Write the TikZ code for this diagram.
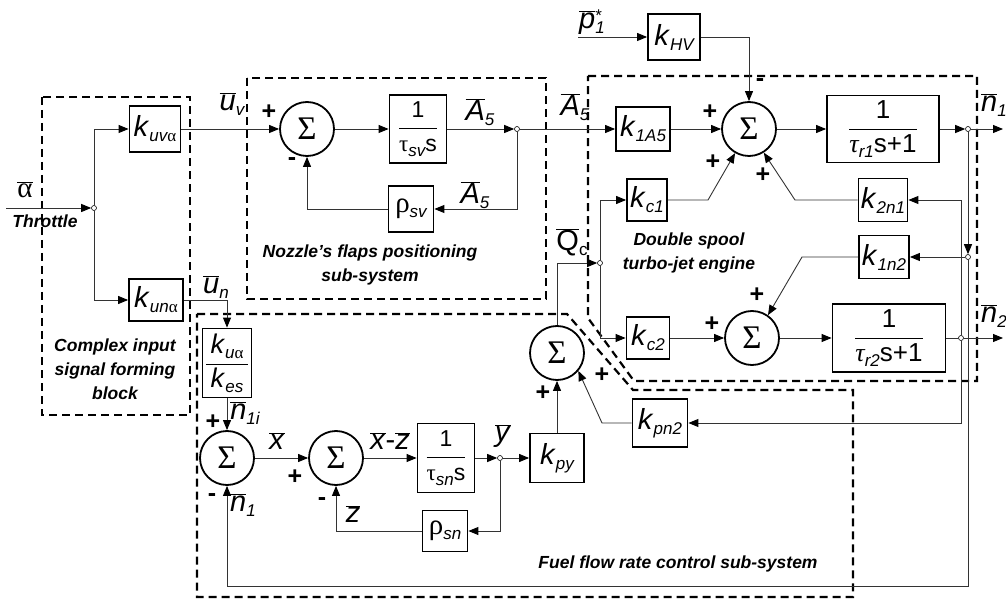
\documentclass[tikz,border=0pt]{standalone}
\usepackage{fontspec}
\setmainfont{Liberation Sans}
\newfontfamily\grk{Liberation Serif}
\usetikzlibrary{arrows.meta}
\newcommand{\fA}{\fontsize{29}{31}\selectfont}
\newcommand{\fS}{\fontsize{17}{18}\selectfont}
\newcommand{\fF}{\fontsize{23}{25}\selectfont}
\newcommand{\fT}{\fontsize{17.5}{24}\selectfont\bfseries\itshape}
\newcommand{\lsub}[1]{\raisebox{-5pt}{\fS\itshape #1}}
\newcommand{\kk}[1]{\textit{k}\lsub{#1}}
\newcommand{\galpha}{{\grk\upshape α}}
\newcommand{\obar}[1]{$\overline{\hbox{#1}}$}
\newcommand{\frc}[2]{$\displaystyle\frac{\hbox{\,#1\,}}{\hbox{#2}}$}
\begin{document}
\begin{tikzpicture}[x=1pt,y=-1pt,
  line/.style={draw=black!80, line width=0.9pt},
  arr/.style={line, -{Triangle[length=10pt,width=8pt,color=black]}},
  blk/.style={draw, line width=1.8pt, inner sep=0pt, font=\fA},
  sm/.style={circle, draw, line width=1.8pt, minimum size=54pt, inner sep=0pt, font=\grk\fontsize{33}{33}\selectfont},
  jn/.style={circle, draw, fill=white, inner sep=0pt, minimum size=5pt, line width=0.6pt},
  lab/.style={inner sep=0pt, font=\fA},
  pm/.style={inner sep=0pt, font=\fontsize{25}{25}\selectfont\bfseries},
  ttl/.style={align=center, font=\fT, inner sep=0pt},
  dbox/.style={draw, line width=2.2pt, dash pattern=on 8pt off 5pt}]
\useasboundingbox (0,0) rectangle (1006,601);

% dashed sub-system frames
\draw[dbox] (42,97) rectangle (190,415);
\draw[dbox] (247,78) rectangle (546,299);
\draw[dbox] (588,76) -- (977,76) -- (977,381) -- (634,381) -- (588,318) -- cycle;
\draw[dbox] (197,314) -- (567,314) -- (633,390) -- (853,390) -- (853,597) -- (197,597) -- cycle;

% blocks
\node[blk, minimum width=51pt, minimum height=46pt] (kuva) at (155,129) {\kk{uv\galpha}};
\node[blk, minimum width=54pt, minimum height=42pt] (kuna) at (156,300) {\kk{un\galpha}};
\node[blk, minimum width=49pt, minimum height=69pt, font=\fontsize{27}{29}\selectfont] (kues) at (227,363) {\frc{\kk{u\galpha}}{\kk{es}}};
\node[blk, minimum width=57pt, minimum height=68pt, font=\fF] (tsv) at (418,129) {\frc{1}{{\grk τ}\lsub{sv}s}};
\node[blk, minimum width=45pt, minimum height=46pt] (rsv) at (411,209) {{\grk ρ}\lsub{sv}};
\node[blk, minimum width=52pt, minimum height=46pt] (khv) at (674,37) {\kk{HV}};
\node[blk, minimum width=54pt, minimum height=44pt] (k1a5) at (643,129) {\kk{1A5}};
\node[blk, minimum width=112pt, minimum height=67pt, font=\fontsize{26}{28}\selectfont] (tr1) at (883,129) {\frc{1}{{\grk\itshape τ}\lsub{r1}s+1}};
\node[blk, minimum width=40pt, minimum height=42pt] (kc1) at (647,200) {\kk{c1}};
\node[blk, minimum width=49pt, minimum height=43pt] (k2n1) at (883,200) {\kk{2n1}};
\node[blk, minimum width=50pt, minimum height=43pt] (k1n2) at (884,257) {\kk{1n2}};
\node[blk, minimum width=43pt, minimum height=42pt] (kc2) at (648,338) {\kk{c2}};
\node[blk, minimum width=113pt, minimum height=68pt, font=\fontsize{26}{28}\selectfont] (tr2) at (889,338) {\frc{1}{{\grk\itshape τ}\lsub{r2}s+1}};
\node[blk, minimum width=55pt, minimum height=48pt] (kpn2) at (660,423) {\kk{pn2}};
\node[blk, minimum width=54pt, minimum height=49pt] (kpy) at (557,458) {\kk{py}};
\node[blk, minimum width=57pt, minimum height=69pt, font=\fF] (tsn) at (446,458) {\frc{1}{{\grk τ}\lsub{sn}s}};
\node[blk, minimum width=45pt, minimum height=41pt] (rsn) at (445,531) {{\grk ρ}\lsub{sn}};

% summing junctions
\node[sm] (s1) at (307,129) {Σ};
\node[sm] (s2) at (749,129) {Σ};
\node[sm] (sn2) at (752,338) {Σ};
\node[sm] (s3) at (557,353) {Σ};
\node[sm] (f1) at (227,458) {Σ};
\node[sm] (f2) at (336,458) {Σ};

% branch points
\node[jn] (j0) at (94,208) {};
\node[jn] (jA5) at (517,129) {};
\node[jn] (jQ) at (600,263) {};
\node[jn] (jn1) at (968,129) {};
\node[jn] (jn1b) at (968,257) {};
\node[jn] (jn2) at (961,338) {};
\node[jn] (jy) at (500,458) {};

% free ends and bends
\coordinate (inp) at (6,208);
\coordinate (p1in) at (578,37);
\coordinate (n1out) at (1003,129);
\coordinate (n2out) at (1003,338);
\coordinate (ka) at (708,200);
\coordinate (kb) at (795,200);
\coordinate (kcn) at (802,257);
\coordinate (kpb) at (602,423);
\coordinate (bl) at (968,586);

% connectors
\draw[arr] (inp) -- (j0);
\draw[arr] (j0) |- (kuva.west);
\draw[arr] (j0) |- (kuna.west);
\draw[arr] (kuva.east) -- (s1.west);
\draw[arr] (s1.east) -- (tsv.west);
\draw[arr] (tsv.east) -- (jA5);
\draw[arr] (jA5) -- (k1a5.west);
\draw[arr] (jA5) |- (rsv.east);
\draw[arr] (rsv.west) -| (s1.south);
\draw[arr] (kuna.east) -| (kues.north);
\draw[arr] (kues.south) -- (f1.north);
\draw[arr] (f1.east) -- (f2.west);
\draw[arr] (f2.east) -- (tsn.west);
\draw[arr] (tsn.east) -- (jy);
\draw[arr] (jy) -- (kpy.west);
\draw[arr] (jy) |- (rsn.east);
\draw[arr] (rsn.west) -| (f2.south);
\draw[arr] (kpy.north) -- (s3.south);
\draw[arr] (s3.north) |- (jQ);
\draw[arr] (jQ) |- (kc1.west);
\draw[arr] (jQ) |- (kc2.west);
\draw[arr] (p1in) -- (khv.west);
\draw[arr] (khv.east) -| (s2.north);
\draw[arr] (k1a5.east) -- (s2.west);
\draw[arr] (kc1.east) -- (ka) -- (s2.240);
\draw[arr] (k2n1.west) -- (kb) -- (s2.302);
\draw[arr] (s2.east) -- (tr1.west);
\draw[arr] (tr1.east) -- (jn1);
\draw[arr] (jn1) -- (n1out);
\draw[arr] (jn1) -- (jn1b);
\draw[arr] (jn1b) -- (k1n2.east);
\draw[arr] (k1n2.west) -- (kcn) -- (sn2.55);
\draw[arr] (kc2.east) -- (sn2.west);
\draw[arr] (sn2.east) -- (tr2.west);
\draw[line] (tr2.east) -- (jn2);
\draw[arr] (jn2) -- (n2out);
\draw[arr] (jn2) |- (k2n1.east);
\draw[arr] (jn2) |- (kpn2.east);
\draw[arr] (kpn2.west) -- (kpb) -- (s3.320);
\draw[arr] (jn1b) -- (bl) -| (f1.south);

% signal labels
\node[lab, font=\grk\fontsize{29}{31}\selectfont] (lal) at (25,190) {\obar{α}};
\node[ttl] (lthr) at (45,221) {Throttle};
\node[lab] (luv) at (232,104) {\obar{\textit{u}}\lsub{v}};
\node[lab] (lun) at (216,287) {\obar{\textit{u}}\lsub{n}};
\node[lab] (la1) at (480,112) {\obar{\textit{A}}\lsub{5}};
\node[lab] (la2) at (475,195) {\obar{\textit{A}}\lsub{5}};
\node[lab] (la3) at (575,107) {\obar{\textit{A}}\lsub{5}};
\node[lab] (lp1) at (592,22) {\obar{\textit{p}}\rlap{\raisebox{7pt}{\fS *}}\lsub{1}};
\node[lab] (ln1) at (994,105) {\obar{\textit{n}}\lsub{1}};
\node[lab] (ln2) at (994,316) {\obar{\textit{n}}\lsub{2}};
\node[lab] (lqc) at (572,242) {\obar{Q}\lsub{\upshape c}};
\node[lab] (ln1i) at (245,413) {\obar{\textit{n}}\lsub{1i}};
\node[lab] (ln1f) at (243,505) {\obar{\textit{n}}\lsub{1}};
\node[lab] (lx) at (277,441) {\obar{\textit{x}}};
\node[lab] (lxz) at (390,441) {\obar{\textit{x}}-\obar{\textit{z}}};
\node[lab] (lz) at (353,514) {\obar{\textit{z}}};
\node[lab] (ly) at (503,436) {\obar{\textit{y}}};

% signs
\node[pm] (p1) at (269,112) {+};
\node[pm] (m1) at (292,162) {-};
\node[pm] (m2) at (760,83) {-};
\node[pm] (p2) at (710,112) {+};
\node[pm] (p3) at (713,162) {+};
\node[pm] (p4) at (763,175) {+};
\node[pm] (p5) at (757,295) {+};
\node[pm] (p6) at (712,324) {+};
\node[pm] (p7) at (602,375) {+};
\node[pm] (p8) at (543,393) {+};
\node[pm] (p9) at (213,422) {+};
\node[pm] (m3) at (212,498) {-};
\node[pm] (p10) at (295,477) {+};
\node[pm] (m4) at (322,502) {-};

% sub-system titles
\node[ttl] (tcib) at (115,369) {Complex input\\signal forming\\block};
\node[ttl] (tnoz) at (370,265) {Nozzle's flaps positioning\\sub-system};
\node[ttl] (teng) at (689,253) {Double spool\\turbo-jet engine};
\node[ttl] (tfuel) at (678,564) {Fuel flow rate control sub-system};
\end{tikzpicture}
\end{document}
